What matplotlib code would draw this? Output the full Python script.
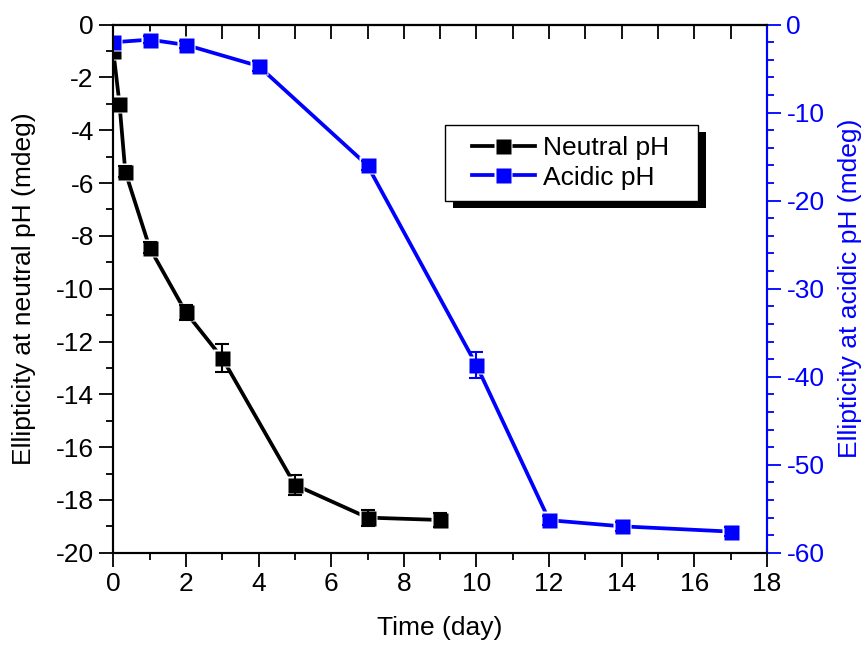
import matplotlib
matplotlib.use("Agg")
import matplotlib.pyplot as plt
from matplotlib.lines import Line2D
from matplotlib.legend_handler import HandlerTuple
from matplotlib.patches import Rectangle
from matplotlib.ticker import MultipleLocator

plt.rcParams['font.family'] = ['Liberation Sans', 'DejaVu Sans']
plt.rcParams['axes.unicode_minus'] = False

# Circular dichroism ellipticity over time
neutral_days = [0, 0.17, 0.33, 1, 2, 3, 5, 7, 9]
neutral_vals = [-1.0, -3.0, -5.57, -8.45, -10.9, -12.63, -17.43, -18.67, -18.76]
neutral_err = [0.1, 0.15, 0.2, 0.2, 0.3, 0.52, 0.38, 0.3, 0.25]

acidic_days = [0, 1, 2, 4, 7, 10, 12, 14, 17]
acidic_vals = [-2.0, -1.7, -2.3, -4.7, -16.0, -38.7, -56.3, -57.0, -57.6]
acidic_err = [0.4, 0.4, 0.4, 0.6, 0.5, 1.5, 0.5, 0.5, 0.5]

x_ticks = list(range(0, 19, 2))
left_ticks = list(range(-20, 1, 2))
right_ticks = list(range(-60, 1, 10))

BLUE = '#0000ff'
FS = 19
MS = 10.8   # visible square size (pt)
GAP = 13.2  # white halo size (pt)
LW = 2.7

fig = plt.figure(figsize=(8.67, 6.46), dpi=100)
ax = fig.add_axes([0.1307, 0.1444, 0.754, 0.8174])
ax2 = ax.twinx()


def draw_series(a, x, y, err, color):
    a.plot(x, y, color=color, lw=LW, zorder=2, solid_capstyle='butt')
    a.plot(x, y, ls='none', marker='s', ms=GAP, mfc='white', mec='none', zorder=2.1)
    a.errorbar(x, y, yerr=err, fmt='none', ecolor=color, elinewidth=1.5,
               capsize=5, capthick=1.5, zorder=2.2)
    a.plot(x, y, ls='none', marker='s', ms=MS, mfc=color, mec='none', zorder=2.3)


draw_series(ax, neutral_days, neutral_vals, neutral_err, 'black')
draw_series(ax2, acidic_days, acidic_vals, acidic_err, BLUE)

ax.set_xlim(0, 18)
ax.set_ylim(-20, 0)
ax2.set_ylim(-60, 0)

ax.set_xticks(x_ticks)
ax.xaxis.set_minor_locator(MultipleLocator(1))
ax.set_yticks(left_ticks)
ax.yaxis.set_minor_locator(MultipleLocator(1))
ax2.set_yticks(right_ticks)
ax2.yaxis.set_minor_locator(MultipleLocator(2))

ax.tick_params(axis='both', which='major', direction='out', length=10, width=1.3,
               labelsize=FS, pad=4)
ax.tick_params(axis='both', which='minor', direction='out', length=5, width=1.3)
ax2.tick_params(axis='y', which='major', direction='out', length=10, width=1.3,
                labelsize=FS, colors=BLUE, pad=4)
ax2.tick_params(axis='y', which='minor', direction='out', length=5, width=1.3,
                colors=BLUE)

# inward mirror ticks along the top edge
top = ax.secondary_xaxis('top')
top.set_xticks(range(0, 19))
top.tick_params(axis='x', which='major', direction='in', length=10, width=1.3,
                labeltop=False)
top.spines['top'].set_linewidth(1.5)

for s in ax.spines.values():
    s.set_linewidth(1.5)
for s in ax2.spines.values():
    s.set_linewidth(1.5)
ax2.spines['right'].set_color(BLUE)

ax.set_xlabel('Time (day)', fontsize=FS, labelpad=14)
ax.set_ylabel('Ellipticity at neutral pH (mdeg)', fontsize=FS, labelpad=14)
ax2.set_ylabel('Ellipticity at acidic pH (mdeg)', fontsize=FS, color=BLUE, labelpad=10)


def legend_handle(color):
    line = Line2D([], [], color=color, lw=LW)
    halo = Line2D([], [], ls='none', marker='s', ms=GAP, mfc='white', mec='none')
    mark = Line2D([], [], ls='none', marker='s', ms=MS, mfc=color, mec='none')
    return (line, halo, mark)


# legend box with a solid drop shadow (axes-fraction coordinates)
box_x0, box_y0, box_w, box_h = 0.508, 0.666, 0.386, 0.144
tr = ax2.transAxes
ax2.add_patch(Rectangle((box_x0 + 0.012, box_y0 - 0.014), box_w, box_h,
                        transform=tr, facecolor='black', edgecolor='none',
                        zorder=4.8, clip_on=False))
ax2.add_patch(Rectangle((box_x0, box_y0), box_w, box_h, transform=tr,
                        facecolor='white', edgecolor='black', linewidth=1.0,
                        zorder=4.9, clip_on=False))

leg = ax2.legend([legend_handle('black'), legend_handle(BLUE)],
                 ['Neutral pH', 'Acidic pH'],
                 handler_map={tuple: HandlerTuple(ndivide=1)},
                 loc='center', bbox_to_anchor=(box_x0 + box_w / 2 - 0.002,
                                               box_y0 + box_h / 2),
                 fontsize=FS, frameon=False,
                 handlelength=2.4, handletextpad=0.3, labelspacing=0.2,
                 borderpad=0.0, borderaxespad=0.0)
leg.set_zorder(5)

fig.savefig('out.png', dpi=100)
